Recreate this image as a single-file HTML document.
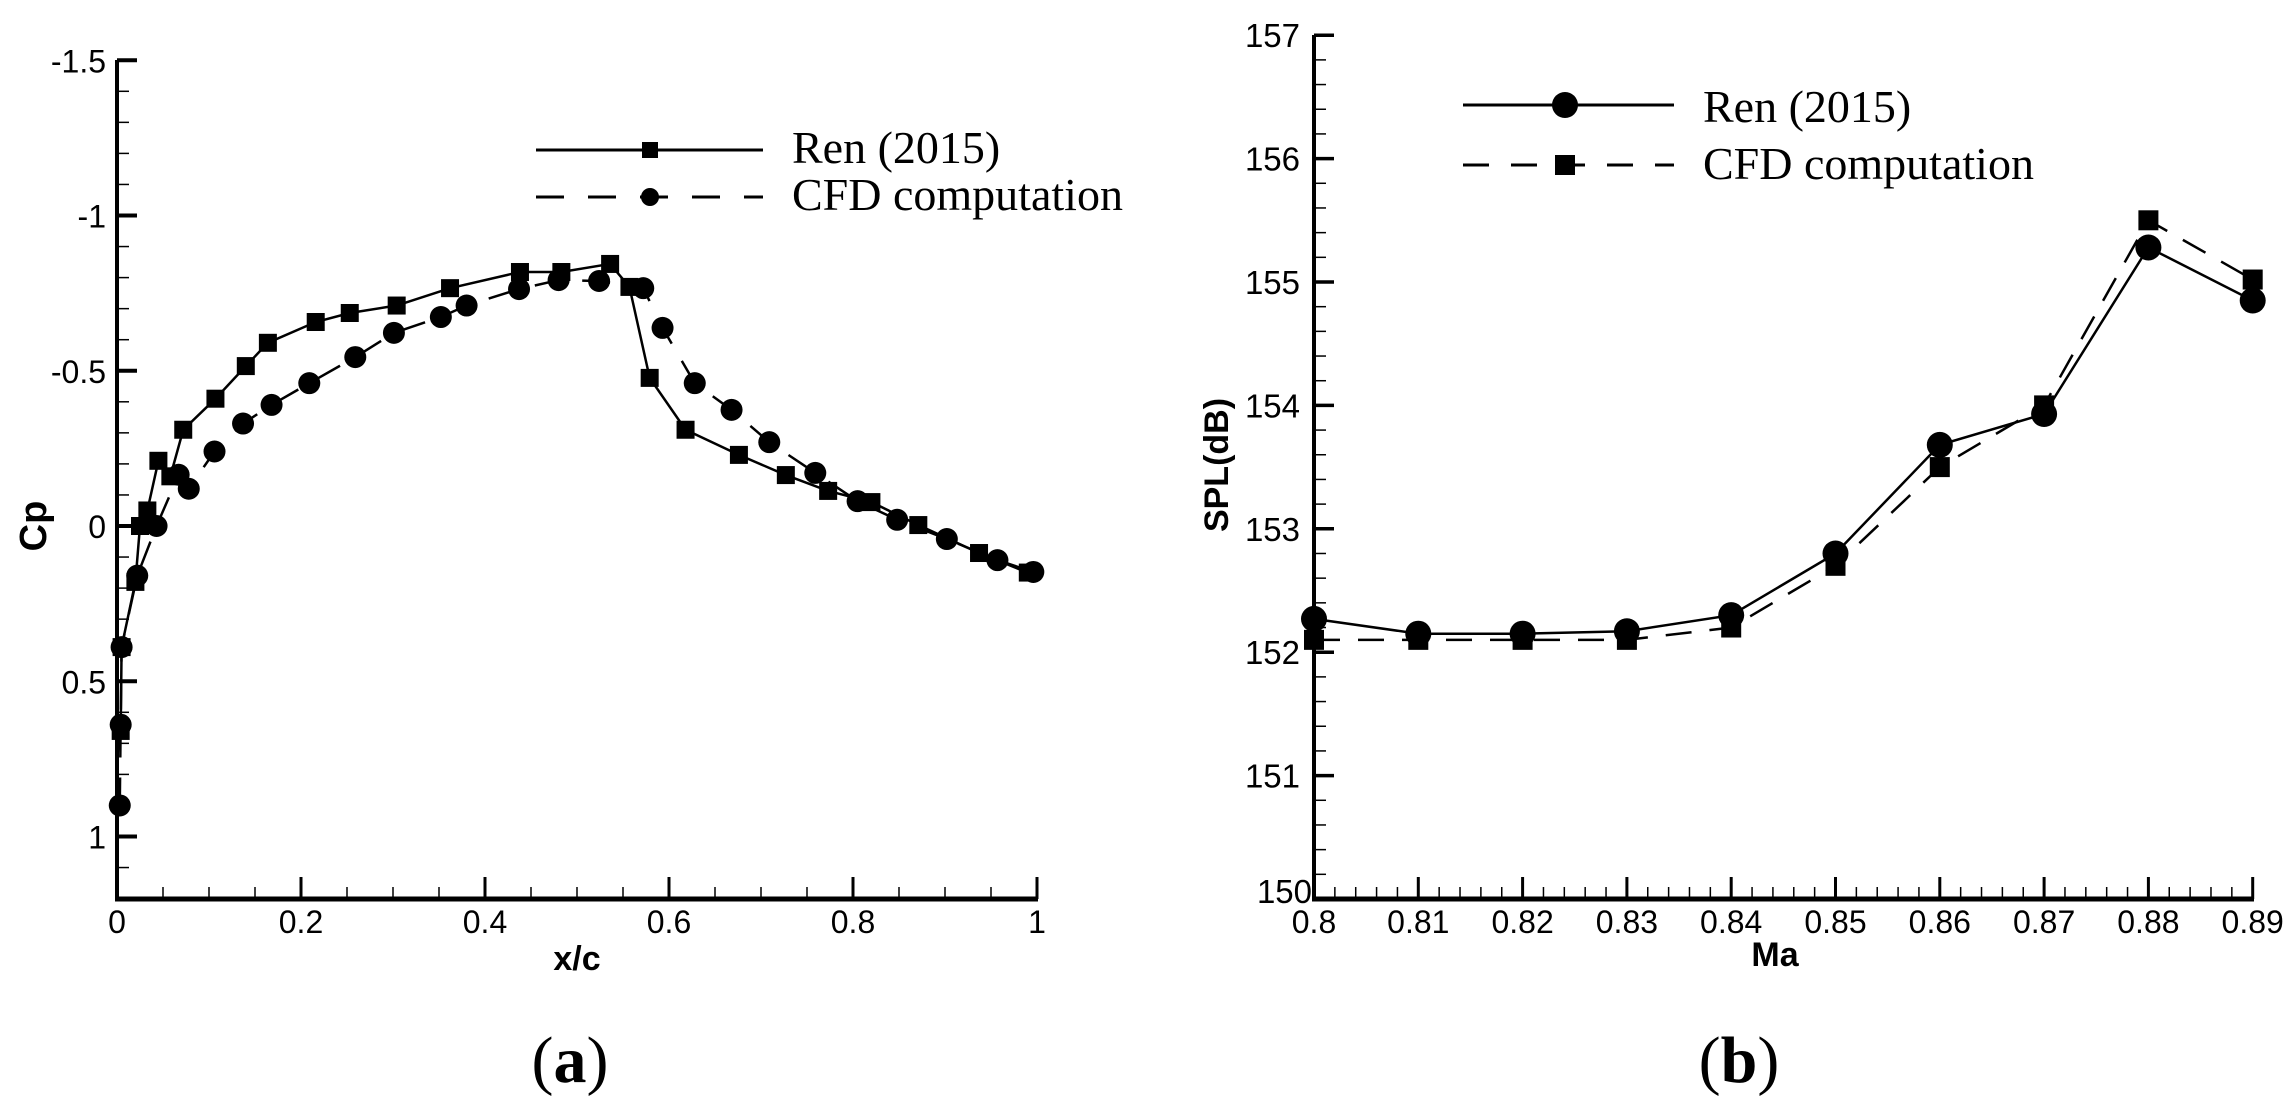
<!DOCTYPE html>
<html><head><meta charset="utf-8"><style>
html,body{margin:0;padding:0;background:#fff;}
svg{display:block}
.t{font-family:"Liberation Sans",Arial,sans-serif;fill:#000}
.s{font-family:"Liberation Serif","Times New Roman",serif;fill:#000}
</style></head><body>
<svg id="c" width="2291" height="1117" viewBox="0 0 2291 1117" xmlns="http://www.w3.org/2000/svg">
<rect width="2291" height="1117" fill="#fff"/>
<g id="g"></g>
<text class="t" x="0" y="0" font-size="38" font-weight="bold" text-anchor="middle" transform="translate(46,526) rotate(-90)">Cp</text>
<text class="t" x="577" y="970" font-size="34" font-weight="bold" text-anchor="middle">x/c</text>
<text class="t" x="0" y="0" font-size="34" font-weight="bold" text-anchor="middle" transform="translate(1228,465) rotate(-90)">SPL(dB)</text>
<text class="t" x="1775" y="966" font-size="34" font-weight="bold" text-anchor="middle">Ma</text>
<text class="s" x="570" y="1082" font-size="66" text-anchor="middle">(<tspan font-weight="bold">a</tspan>)</text>
<text class="s" x="1739" y="1082" font-size="66" text-anchor="middle">(<tspan font-weight="bold">b</tspan>)</text>
<text class="s" x="792" y="163" font-size="46">Ren (2015)</text>
<text class="s" x="792" y="210" font-size="46">CFD computation</text>
<text class="s" x="1703" y="122" font-size="46">Ren (2015)</text>
<text class="s" x="1703" y="179" font-size="46">CFD computation</text>
</svg>
<script>
var NS="http://www.w3.org/2000/svg",G=document.getElementById("g");
function el(n,a){var e=document.createElementNS(NS,n);for(var k in a)e.setAttribute(k,a[k]);G.appendChild(e);return e;}
function line(x1,y1,x2,y2,w,d){var a={x1:x1,y1:y1,x2:x2,y2:y2,stroke:"#000","stroke-width":w};if(d)a["stroke-dasharray"]=d;el("line",a);}
function txt(x,y,s,fs,anc){var e=el("text",{x:x,y:y,"font-size":fs,"text-anchor":anc,"class":"t"});e.textContent=s;}
function sq(x,y,s){el("rect",{x:x-s/2,y:y-s/2,width:s,height:s,fill:"#000"});}
function ci(x,y,r){el("circle",{cx:x,cy:y,r:r,fill:"#000"});}
function poly(pts,w,d){var a={points:pts.map(function(p){return p[0]+","+p[1]}).join(" "),fill:"none",stroke:"#000","stroke-width":w};if(d)a["stroke-dasharray"]=d;el("polyline",a);}
// LEFT
var LX=function(v){return 117+920*v},LY=function(v){return 526+310.5*v};
line(117,60,117,899,4);line(115,899,1038,899,5);
for(var i=0;i<=27;i++){var v=-1.5+i*0.1,y=LY(v),maj=(i%5==0);line(117,y,117+(maj?20:12),y,maj?4:1.5);
 if(maj){var lab=(Math.round(v*10)/10);lab=(lab==0?"0":String(lab));txt(106,y+12,lab,32,"end");}}
for(var i=0;i<=20;i++){var v=i*0.05,x=LX(v),maj=(i%4==0);line(x,899,x,899-(maj?22:12),maj?3:1.5);
 if(maj){txt(x,933,String(Math.round(v*10)/10),32,"middle");}}
var ren=[[0,0.75],[0.004,0.66],[0.005,0.39],[0.02,0.18],[0.025,0],[0.033,-0.05],[0.045,-0.21],[0.058,-0.16],[0.072,-0.31],[0.107,-0.41],[0.14,-0.515],[0.164,-0.59],[0.216,-0.657],[0.253,-0.686],[0.304,-0.71],[0.362,-0.766],[0.438,-0.818],[0.483,-0.818],[0.536,-0.844],[0.557,-0.77],[0.579,-0.477],[0.618,-0.31],[0.676,-0.229],[0.727,-0.164],[0.773,-0.113],[0.82,-0.077],[0.871,-0.003],[0.937,0.087],[0.99,0.15]];
var cfd=[[0.003,0.9],[0.004,0.64],[0.005,0.39],[0.022,0.16],[0.043,0],[0.067,-0.165],[0.078,-0.12],[0.106,-0.24],[0.137,-0.33],[0.168,-0.39],[0.209,-0.46],[0.259,-0.544],[0.301,-0.622],[0.352,-0.673],[0.38,-0.71],[0.437,-0.763],[0.48,-0.792],[0.524,-0.789],[0.572,-0.766],[0.593,-0.638],[0.628,-0.46],[0.668,-0.374],[0.709,-0.27],[0.759,-0.171],[0.805,-0.08],[0.848,-0.02],[0.902,0.042],[0.957,0.11],[0.996,0.148]];
var rp=ren.map(function(p){return[LX(p[0]),LY(p[1])]}),cp=cfd.map(function(p){return[LX(p[0]),LY(p[1])]});
poly(rp,2.5);poly(cp,2.5,"28,20");
rp.forEach(function(p,i){if(i>0)sq(p[0],p[1],18)});cp.forEach(function(p){ci(p[0],p[1],11)});
line(536,150,763,150,3);sq(650,150,16);line(536,197,763,197,3,"28,24");ci(650,197,9);
// RIGHT
var RX=function(v){return 1314+(v-0.8)*10430},RY=function(v){return 899-(v-150)*123.4};
line(1314,35,1314,899,4);line(1312,899,2254,899,5);
for(var i=0;i<=35;i++){var v=150+i*0.2,y=RY(v),maj=(i%5==0);line(1314,y,1314+(maj?20:12),y,maj?3.5:1.5);
 if(maj){txt(maj&&i==0?1312:1300,y+(i==0?4:12),String(Math.round(v)),33,"end");}}
for(var i=0;i<=45;i++){var v=0.8+i*0.002,x=RX(v),maj=(i%5==0);line(x,899,x,899-(maj?22:12),maj?3:1.5);
 if(maj){var s=(Math.round(v*100)/100).toString();txt(x,933,s,32,"middle");}}
var ma=[0.8,0.81,0.82,0.83,0.84,0.85,0.86,0.87,0.88,0.89];
var r2=[152.27,152.15,152.15,152.17,152.3,152.8,153.68,153.93,155.28,154.85];
var c2=[152.1,152.1,152.1,152.1,152.2,152.7,153.5,154.0,155.5,155.02];
var rp2=ma.map(function(m,i){return[RX(m),RY(r2[i])]}),cp2=ma.map(function(m,i){return[RX(m),RY(c2[i])]});
poly(cp2,2.5,"26,18");poly(rp2,2.5);
cp2.forEach(function(p){sq(p[0],p[1],20)});rp2.forEach(function(p){ci(p[0],p[1],13)});
line(1463,105,1674,105,3);ci(1565,105,13);line(1463,165,1674,165,3,"26,22");sq(1565,165,20);
</script>
</body></html>
